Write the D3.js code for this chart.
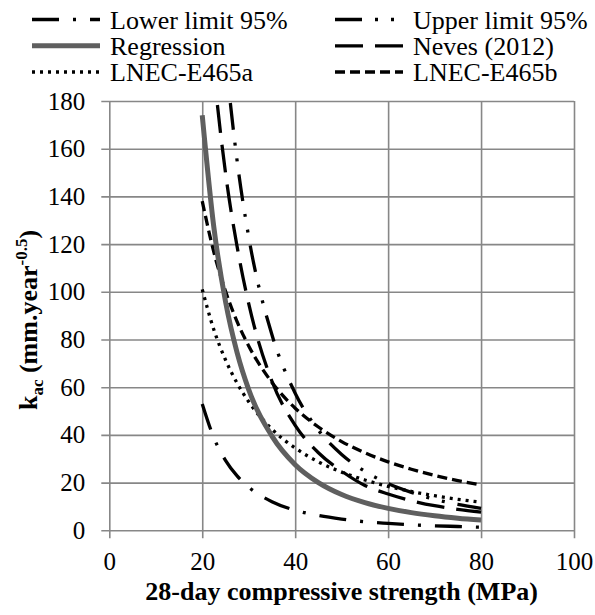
<!DOCTYPE html>
<html><head><meta charset="utf-8">
<script src="https://cdn.jsdelivr.net/npm/d3@7/dist/d3.min.js"></script>
<style>
body{margin:0;background:#fff}
svg text{font-family:"Liberation Serif","DejaVu Serif",serif !important;}
</style>
</head><body>
<svg id="chart" width="595" height="615"></svg>
<script>
// ---- data ----
const strength = [20, 22.5, 25, 27.5, 30, 35, 40, 45, 50, 55, 60, 65, 70, 75, 80];
const lowerLimit = [53, 38.8, 29.3, 22.8, 18.1, 12.0, 8.4, 6.2, 4.7, 3.6, 2.9, 2.3, 1.9, 1.6, 1.3];
const upperLimit = [360, 264, 200, 155, 123, 82, 57.5, 42, 31.8, 24.7, 19.6, 15.9, 13.0, 10.9, 9.2];
const regression = [174, 127, 96, 74.5, 59, 39.5, 27.5, 20, 15, 11.6, 9.2, 7.4, 6.1, 5.1, 4.3];
const neves2012 = [262, 194, 150, 119, 95, 62.5, 44, 32.5, 24.8, 18.8, 15.2, 12.4, 10.3, 8.8, 7.6];
const lnecA = [101, 84.1, 71.5, 61.7, 53.9, 42.4, 34.5, 28.7, 24.4, 21.1, 18.4, 16.3, 14.5, 13.0, 11.8];
const lnecB = [138, 116.6, 100.3, 87.5, 77.3, 62.0, 51.2, 43.3, 37.2, 32.5, 28.7, 25.6, 23.0, 20.8, 19.0];
const seriesNames = ["Lower limit 95%", "Upper limit 95%", "Regression", "Neves (2012)", "LNEC-E465a", "LNEC-E465b"];
const xTicks = [0, 20, 40, 60, 80, 100];
const yTicks = [0, 20, 40, 60, 80, 100, 120, 140, 160, 180];
const xTitle = "28-day compressive strength (MPa)";

// ---- styles ----
const styles = {
  "Lower limit 95%": {color: "#000", width: 3.3, dash: "27,14,3,14"},
  "Upper limit 95%": {color: "#000", width: 3.3, dash: "27,13,3,13,3,13"},
  "Regression": {color: "#5f5f5f", width: 5, dash: null},
  "Neves (2012)": {color: "#000", width: 3.3, dash: "28,12"},
  "LNEC-E465a": {color: "#000", width: 3.3, dash: "3,5"},
  "LNEC-E465b": {color: "#000", width: 3.3, dash: "10,5"}
};
const values = {
  "Lower limit 95%": lowerLimit, "Upper limit 95%": upperLimit, "Regression": regression,
  "Neves (2012)": neves2012, "LNEC-E465a": lnecA, "LNEC-E465b": lnecB
};

const svg = d3.select("#chart");
const L = 109.3, R = 574, T = 101, B = 530.3;
const x = d3.scaleLinear().domain([0, 100]).range([L, R]);
const y = d3.scaleLinear().domain([0, 180]).range([B, T]);
const serif = '"Liberation Serif","DejaVu Serif",serif';
const grid = "#878787";

// y axis with gridlines
const gy = svg.append("g").attr("transform", `translate(${L},0)`)
  .call(d3.axisLeft(y).tickValues(yTicks).tickSize(8).tickPadding(16));
gy.attr("font-family", null);
gy.select(".domain").remove();
gy.selectAll("line").attr("x1", -8).attr("x2", R - L).attr("stroke", grid).attr("stroke-width", 1.6);
gy.selectAll("text").style("font-family", serif).style("font-size", "25px").attr("fill", "#000");

// x axis with gridlines
const gx = svg.append("g").attr("transform", `translate(0,${B})`)
  .call(d3.axisBottom(x).tickValues(xTicks).tickSize(8).tickPadding(14));
gx.attr("font-family", null);
gx.select(".domain").remove();
gx.selectAll("line").attr("y1", -(B - T)).attr("y2", 8).attr("stroke", grid).attr("stroke-width", 1.6);
gx.selectAll("text").style("font-family", serif).style("font-size", "25px").attr("fill", "#000");

// clip
svg.append("clipPath").attr("id", "plotclip").append("rect")
  .attr("x", L).attr("y", T).attr("width", R - L).attr("height", B - T);

const line = d3.line().x(d => x(d[0])).y(d => y(d[1])).curve(d3.curveMonotoneX);
const plot = svg.append("g").attr("clip-path", "url(#plotclip)");
const drawOrder = ["LNEC-E465b", "LNEC-E465a", "Neves (2012)", "Upper limit 95%", "Lower limit 95%", "Regression"];
drawOrder.forEach(name => {
  const st = styles[name];
  const pts = strength.map((s, i) => [s, values[name][i]]);
  plot.append("path").attr("d", line(pts)).attr("fill", "none")
    .attr("stroke", st.color).attr("stroke-width", st.width)
    .attr("stroke-dasharray", st.dash);
});

// legend
const legendPos = [[32, 19.5], [335, 19.5], [32, 45.8], [335, 45.8], [32, 72], [335, 72]];
seriesNames.forEach((name, i) => {
  const [lx, ly] = legendPos[i];
  const st = styles[name];
  svg.append("line").attr("x1", lx).attr("x2", lx + 68).attr("y1", ly).attr("y2", ly)
    .attr("stroke", st.color).attr("stroke-width", st.width).attr("stroke-dasharray", st.dash);
  svg.append("text").attr("x", lx + 78).attr("y", ly + 9)
    .style("font-family", serif).style("font-size", "26px").text(name);
});

// x title
svg.append("text").attr("x", (L + R) / 2).attr("y", 600).attr("text-anchor", "middle")
  .style("font-family", serif).style("font-size", "26px").style("font-weight", "bold").text(xTitle);

// y title
const yt = svg.append("text").attr("transform", "translate(37,320) rotate(-90)")
  .attr("text-anchor", "middle").style("font-family", serif).style("font-size", "26px").style("font-weight", "bold");
yt.append("tspan").text("k");
yt.append("tspan").attr("dy", 6).style("font-size", "17px").text("ac");
yt.append("tspan").attr("dy", -6).text(" (mm.year");
yt.append("tspan").attr("dy", -10).style("font-size", "17px").text("-0.5");
yt.append("tspan").attr("dy", 10).text(")");
</script>
</body></html>
